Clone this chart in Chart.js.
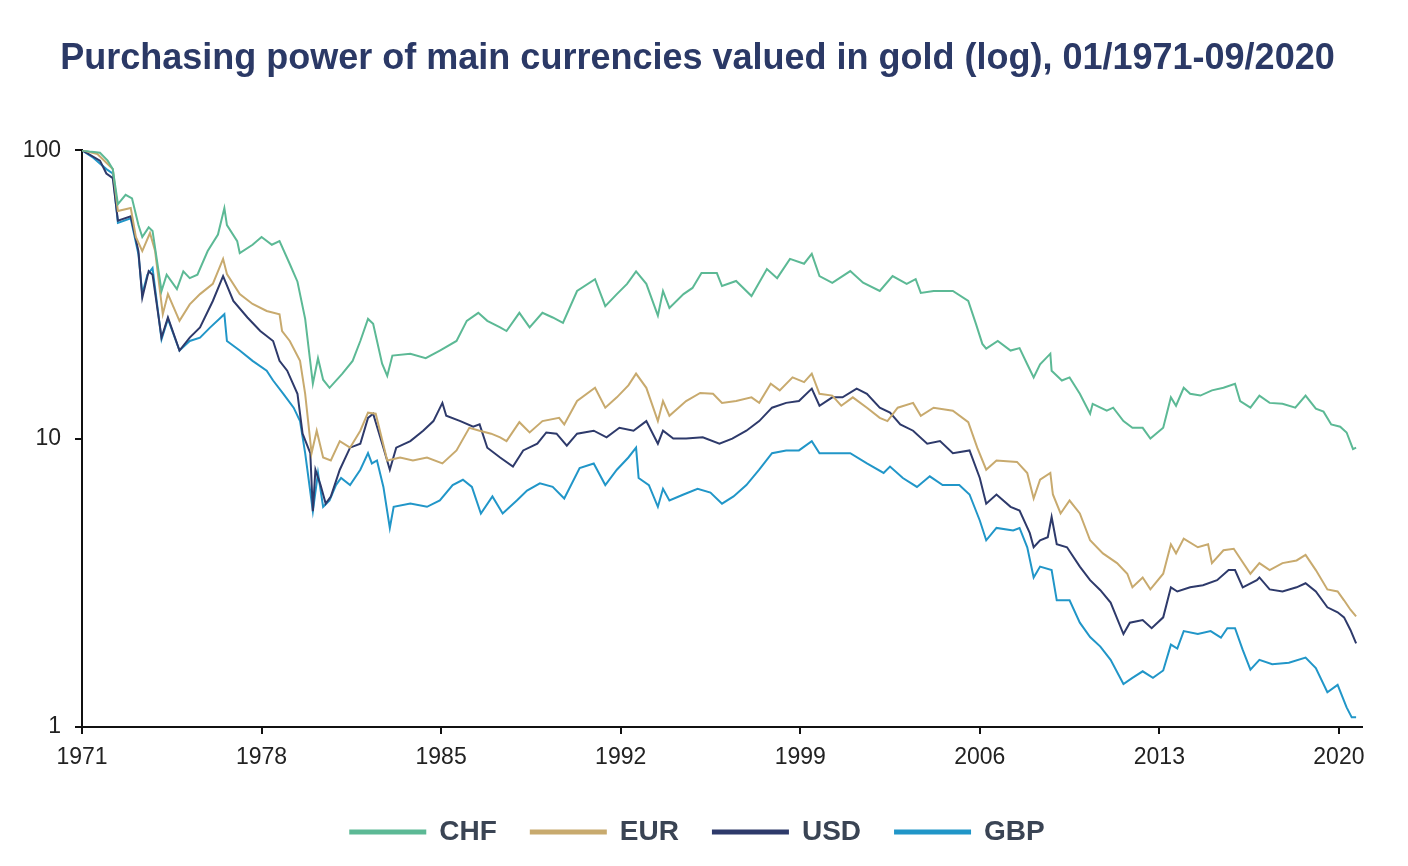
<!DOCTYPE html>
<html>
<head>
<meta charset="utf-8">
<title>Purchasing power of main currencies valued in gold</title>
<script src="https://cdn.jsdelivr.net/npm/chart.js@4/dist/chart.umd.min.js"></script>
<style>
  html, body { margin: 0; padding: 0; background: #ffffff; }
  #wrap { width: 1408px; height: 866px; }
</style>
</head>
<body>
<div id="wrap"><canvas id="goldChart" width="1408" height="866"></canvas></div>
<script>
//---------------------------------------------------------
// Data (index, 01/1971 = 100)
const xTickYears = [1971, 1978, 1985, 1992, 1999, 2006, 2013, 2020];
const yTickValues = [1, 10, 100];
const seriesNames = ["CHF", "EUR", "USD", "GBP"];

const chfYears = [1971.0, 1971.3, 1971.7, 1972.0, 1972.2, 1972.4, 1972.7, 1972.95, 1973.2, 1973.35, 1973.6, 1973.75,
  1974.1, 1974.3, 1974.7, 1974.95, 1975.2, 1975.5, 1975.9, 1976.3, 1976.55, 1976.65, 1977.05, 1977.15, 1977.65,
  1978.0, 1978.4, 1978.7, 1979.1, 1979.4, 1979.7, 1980.0, 1980.2, 1980.4, 1980.65, 1981.15, 1981.55, 1981.85,
  1982.15, 1982.35, 1982.7, 1982.9, 1983.1, 1983.8, 1984.4, 1984.95, 1985.6, 1986.0, 1986.45, 1986.8, 1987.3,
  1987.55, 1988.05, 1988.45, 1988.95, 1989.35, 1989.75, 1990.3, 1991.0, 1991.4, 1991.85, 1992.25, 1992.6, 1993.0,
  1993.45, 1993.65, 1993.9, 1994.45, 1994.8, 1995.15, 1995.75, 1995.95, 1996.5, 1997.1, 1997.7, 1998.1, 1998.6,
  1999.15, 1999.45, 1999.75, 2000.25, 2000.95, 2001.45, 2002.1, 2002.6, 2003.15, 2003.5, 2003.7, 2004.2, 2004.95,
  2005.55, 2005.85, 2006.1, 2006.25, 2006.7, 2007.2, 2007.55, 2007.85, 2008.1, 2008.35, 2008.75, 2008.8, 2009.2,
  2009.5, 2009.9, 2010.3, 2010.4, 2010.95, 2011.2, 2011.6, 2011.95, 2012.35, 2012.65, 2013.15, 2013.45, 2013.65,
  2013.95, 2014.2, 2014.6, 2015.05, 2015.5, 2015.95, 2016.15, 2016.55, 2016.9, 2017.3, 2017.8, 2018.3, 2018.7,
  2019.1, 2019.4, 2019.7, 2020.05, 2020.3, 2020.55, 2020.67];
const chfValues = [100, 99, 98, 92, 86, 65, 70, 68, 55, 50, 54, 52.5,
  32.5, 37, 33, 38, 36, 37, 44.7, 51, 63, 55, 48.4, 44, 47,
  50, 47, 48.4, 40.3, 35, 26, 15.5, 19, 16, 15, 16.8, 18.6, 21.8,
  26, 25, 18.2, 16.5, 19.4, 19.7, 19, 20.2, 21.8, 25.6, 27.3, 25.6, 24.3,
  23.6, 27.3, 24.3, 27.3, 26.3, 25.2, 32.5, 35.7, 28.8, 31.7, 34.4, 38, 34.4,
  26.7, 32.5, 28.4, 31.7, 33.3, 37.5, 37.5, 33.8, 35.2, 31.2, 38.7, 36, 42,
  40.4, 43.7, 36.6, 34.7, 38.1, 34.7, 32.5, 36.6, 34.4, 35.7, 32, 32.5, 32.5,
  30, 25, 21.3, 20.5, 21.8, 20.2, 20.6, 18.1, 16.3, 18.1, 19.7, 17.2, 15.9,
  16.3, 14.3, 12.2, 13.2, 12.5, 12.8, 11.5, 10.9, 10.9, 10.0, 10.9, 13.9, 13,
  15, 14.3, 14.1, 14.7, 15, 15.5, 13.5, 12.8, 14.1, 13.3, 13.2, 12.8, 14.1,
  12.7, 12.4, 11.2, 11.0, 10.5, 9.2, 9.3];

const eurYears = [1971.0, 1971.6, 1972.2, 1972.4, 1972.9, 1973.1, 1973.35, 1973.65, 1973.85, 1974.15, 1974.35, 1974.8,
  1975.2, 1975.6, 1976.1, 1976.5, 1976.65, 1977.15, 1977.65, 1978.2, 1978.7, 1978.8, 1979.1, 1979.5, 1979.7,
  1979.95, 1980.15, 1980.4, 1980.7, 1981.05, 1981.45, 1981.85, 1982.15, 1982.45, 1982.9, 1983.4, 1983.9, 1984.45,
  1985.05, 1985.6, 1986.1, 1986.5, 1986.95, 1987.3, 1987.55, 1988.05, 1988.45, 1988.95, 1989.6, 1989.8, 1990.3,
  1991.0, 1991.4, 1991.85, 1992.3, 1992.6, 1993.0, 1993.45, 1993.65, 1993.9, 1994.55, 1995.1, 1995.6, 1995.95,
  1996.5, 1997.1, 1997.4, 1997.85, 1998.2, 1998.7, 1999.15, 1999.45, 1999.75, 2000.25, 2000.6, 2001.05, 2001.6,
  2002.1, 2002.4, 2002.8, 2003.4, 2003.7, 2004.2, 2004.95, 2005.55, 2005.9, 2006.25, 2006.65, 2007.45, 2007.85,
  2008.1, 2008.35, 2008.75, 2008.85, 2009.15, 2009.5, 2009.9, 2010.3, 2010.8, 2011.35, 2011.75, 2011.95, 2012.35,
  2012.65, 2013.15, 2013.45, 2013.65, 2013.95, 2014.5, 2014.9, 2015.05, 2015.5, 2015.9, 2016.55, 2016.9, 2017.3,
  2017.8, 2018.35, 2018.7, 2019.1, 2019.55, 2019.95, 2020.2, 2020.45, 2020.67];
const eurValues = [100, 97, 86, 61.5, 63, 50, 44.7, 51.6, 44.7, 27, 31.7, 25.6,
  29.2, 31.7, 34.4, 42, 37.2, 31.7, 29.3, 27.7, 27, 23.6, 21.8, 18.6, 14.3,
  8.9, 10.65, 8.6, 8.4, 9.8, 9.3, 10.65, 12.3, 12.2, 8.4, 8.6, 8.4, 8.6,
  8.2, 9.1, 10.9, 10.65, 10.4, 10.1, 9.8, 11.4, 10.5, 11.5, 11.8, 11.2, 13.5,
  15, 12.8, 13.9, 15.3, 16.8, 15, 11.5, 13.5, 12, 13.5, 14.4, 14.3, 13.3,
  13.5, 13.9, 13.3, 15.5, 14.7, 16.3, 15.7, 16.8, 14.3, 14.1, 13, 13.9, 12.8,
  11.8, 11.5, 12.8, 13.3, 12, 12.8, 12.5, 11.4, 9.3, 7.8, 8.4, 8.3, 7.6,
  6.2, 7.2, 7.6, 6.4, 5.5, 6.1, 5.5, 4.44, 4.0, 3.7, 3.4, 3.05, 3.3,
  3.0, 3.4, 4.3, 4.0, 4.5, 4.2, 4.3, 3.7, 4.1, 4.15, 3.4, 3.7, 3.5,
  3.7, 3.78, 3.95, 3.5, 3.0, 2.95, 2.75, 2.55, 2.42];

const usdYears = [1971.0, 1971.7, 1971.95, 1972.2, 1972.4, 1972.9, 1973.2, 1973.35, 1973.6, 1973.75, 1974.1, 1974.35,
  1974.8, 1975.2, 1975.6, 1976.1, 1976.5, 1976.9, 1977.45, 1977.95, 1978.45, 1978.7, 1979.0, 1979.4, 1979.6,
  1979.9, 1980.0, 1980.1, 1980.3, 1980.5, 1980.7, 1981.05, 1981.45, 1981.85, 1982.15, 1982.35, 1982.75, 1983.0,
  1983.25, 1983.8, 1984.3, 1984.7, 1985.05, 1985.2, 1985.75, 1986.25, 1986.5, 1986.8, 1987.3, 1987.8, 1988.2,
  1988.75, 1989.1, 1989.5, 1989.9, 1990.3, 1990.95, 1991.45, 1991.95, 1992.5, 1993.0, 1993.45, 1993.65, 1994.05,
  1994.55, 1995.2, 1995.85, 1996.35, 1996.9, 1997.4, 1997.9, 1998.45, 1998.95, 1999.45, 1999.75, 2000.25, 2000.65,
  2001.2, 2001.6, 2002.1, 2002.5, 2002.9, 2003.4, 2003.95, 2004.45, 2004.95, 2005.6, 2006.0, 2006.25, 2006.65,
  2007.2, 2007.55, 2007.95, 2008.1, 2008.35, 2008.65, 2008.8, 2009.0, 2009.4, 2009.9, 2010.3, 2010.7, 2011.1,
  2011.6, 2011.85, 2012.35, 2012.7, 2013.15, 2013.45, 2013.7, 2014.2, 2014.7, 2015.25, 2015.7, 2015.95, 2016.25,
  2016.8, 2016.9, 2017.3, 2017.8, 2018.35, 2018.7, 2019.1, 2019.55, 2019.95, 2020.2, 2020.45, 2020.67];
const usdValues = [100, 92, 83, 80, 57, 59, 44.7, 30.8, 38.1, 37, 22.4, 26.3,
  20.2, 22.4, 24.3, 30, 36.6, 30, 26.3, 23.6, 21.8, 18.6, 17.2, 14.3, 10.4,
  8.9, 5.6, 7.8, 6.9, 5.95, 6.3, 7.8, 9.3, 9.6, 11.8, 12.2, 9.3, 7.8,
  9.3, 9.8, 10.65, 11.5, 13.3, 12, 11.5, 11, 11.2, 9.3, 8.6, 8.0, 9.1,
  9.6, 10.5, 10.4, 9.45, 10.4, 10.65, 10.1, 10.9, 10.65, 11.5, 9.6, 10.65, 10,
  10, 10.1, 9.6, 10, 10.65, 11.5, 12.8, 13.3, 13.5, 14.9, 13, 13.9, 13.9,
  14.9, 14.3, 12.8, 12.3, 11.2, 10.65, 9.6, 9.8, 8.9, 9.1, 7.3, 5.95, 6.4,
  5.8, 5.63, 4.7, 4.2, 4.44, 4.55, 5.35, 4.3, 4.2, 3.6, 3.23, 2.98, 2.7,
  2.1, 2.3, 2.35, 2.2, 2.4, 3.05, 2.95, 3.05, 3.1, 3.23, 3.5, 3.5, 3.05,
  3.23, 3.3, 3.0, 2.95, 3.05, 3.15, 2.95, 2.6, 2.5, 2.4, 2.17, 1.95];

const gbpYears = [1971.0, 1971.45, 1971.95, 1972.2, 1972.4, 1972.9, 1973.2, 1973.35, 1973.55, 1973.75, 1974.1, 1974.35,
  1974.8, 1975.2, 1975.6, 1976.0, 1976.55, 1976.65, 1977.15, 1977.65, 1978.2, 1978.45, 1978.85, 1979.25, 1979.5,
  1979.7, 1980.0, 1980.2, 1980.4, 1980.65, 1980.9, 1981.1, 1981.45, 1981.85, 1982.15, 1982.3, 1982.5, 1982.75,
  1983.0, 1983.15, 1983.8, 1984.45, 1984.95, 1985.45, 1985.85, 1986.2, 1986.55, 1987.0, 1987.4, 1987.95, 1988.35,
  1988.85, 1989.35, 1989.8, 1990.4, 1990.95, 1991.4, 1991.85, 1992.3, 1992.6, 1992.7, 1993.1, 1993.45, 1993.65,
  1993.9, 1994.45, 1995.0, 1995.5, 1995.95, 1996.4, 1996.9, 1997.4, 1997.9, 1998.45, 1998.95, 1999.45, 1999.75,
  2000.25, 2000.95, 2001.6, 2002.25, 2002.5, 2003.0, 2003.55, 2004.05, 2004.55, 2005.2, 2005.6, 2006.0, 2006.25,
  2006.65, 2007.3, 2007.55, 2007.85, 2008.1, 2008.35, 2008.8, 2009.0, 2009.5, 2009.9, 2010.3, 2010.7, 2011.1,
  2011.6, 2011.95, 2012.35, 2012.75, 2013.15, 2013.45, 2013.7, 2013.95, 2014.5, 2015.0, 2015.4, 2015.65, 2015.95,
  2016.25, 2016.55, 2016.9, 2017.4, 2018.05, 2018.7, 2019.1, 2019.55, 2019.95, 2020.3, 2020.5, 2020.67];
const gbpValues = [100, 94, 86, 83, 56, 58, 43.6, 31.7, 37, 39, 22.1, 26,
  20.2, 21.8, 22.4, 24.3, 27, 21.8, 20.2, 18.6, 17.2, 15.9, 14.3, 12.8, 11.5,
  8.9, 5.6, 7.6, 5.8, 6.1, 6.9, 7.3, 6.9, 7.8, 8.9, 8.2, 8.4, 6.8,
  4.9, 5.8, 5.95, 5.8, 6.1, 6.9, 7.2, 6.8, 5.5, 6.3, 5.5, 6.1, 6.6,
  7.0, 6.8, 6.2, 7.9, 8.2, 6.9, 7.8, 8.6, 9.3, 7.3, 6.9, 5.8, 6.7,
  6.1, 6.4, 6.7, 6.5, 5.95, 6.3, 6.9, 7.8, 8.9, 9.1, 9.1, 9.8, 8.9,
  8.9, 8.9, 8.2, 7.6, 8.0, 7.3, 6.8, 7.4, 6.9, 6.9, 6.4, 5.2, 4.44,
  4.9, 4.8, 4.9, 4.2, 3.3, 3.6, 3.5, 2.75, 2.75, 2.3, 2.05, 1.9, 1.71,
  1.41, 1.48, 1.56, 1.48, 1.57, 1.93, 1.87, 2.15, 2.1, 2.15, 2.04, 2.2, 2.2,
  1.85, 1.58, 1.71, 1.65, 1.67, 1.74, 1.6, 1.32, 1.4, 1.17, 1.08, 1.08];

//---------------------------------------------------------
// Colours and fonts
const seriesColors = ["#5cb995", "#c8aa6e", "#2e3a6b", "#2196c8"];
const titleColor = "#2b3966";
const tickFont = { family: "'Liberation Sans', Arial, sans-serif", size: 23 };

// pair up the years and values for the linear x scale
const toPoints = (years, values) => years.map((yr, i) => ({ x: yr, y: values[i] }));
const seriesPoints = [
  toPoints(chfYears, chfValues),
  toPoints(eurYears, eurValues),
  toPoints(usdYears, usdValues),
  toPoints(gbpYears, gbpValues),
];

// the y labels would be clipped to the scale box (which starts after the left padding),
// so let the label area reach the canvas edge
const unclipYLabels = {
  id: "unclipYLabels",
  afterLayout(chart) { chart.scales.y.left = 0; },
};

const ctx = document.getElementById("goldChart").getContext("2d");
new Chart(ctx, {
  type: "line",
  data: {
    datasets: seriesNames.map((name, i) => ({
      label: name,
      data: seriesPoints[i],
      borderColor: seriesColors[i],
      backgroundColor: seriesColors[i],
      borderWidth: 2,
      pointRadius: 0,
      tension: 0,
      fill: false,
    })),
  },
  options: {
    responsive: false,
    animation: false,
    // left padding shifts the title/legend centre to the right like the original
    layout: { padding: { left: 33, right: 46, top: 0, bottom: 10 } },
    scales: {
      x: {
        type: "linear",
        min: 1971,
        max: 2020.9,
        afterBuildTicks: (scale) => { scale.ticks = xTickYears.map((v) => ({ value: v })); },
        afterFit: (scale) => { scale.height = 57; },
        grid: { drawOnChartArea: false, drawTicks: true, tickLength: 7, color: "#111", lineWidth: 2 },
        border: { display: true, color: "#111", width: 2 },
        ticks: {
          color: "#222",
          font: tickFont,
          padding: 10,
          maxRotation: 0,
          callback: (v) => String(v),
        },
      },
      y: {
        type: "logarithmic",
        min: 1,
        max: 100,
        afterBuildTicks: (scale) => { scale.ticks = yTickValues.map((v) => ({ value: v })); },
        afterFit: (scale) => { scale.width = 49; },
        grid: { drawOnChartArea: false, drawTicks: true, tickLength: 7, color: "#111", lineWidth: 2 },
        border: { display: true, color: "#111", width: 2 },
        ticks: {
          color: "#222",
          font: tickFont,
          padding: 14,
          callback: (v) => String(v),
        },
      },
    },
    plugins: {
      title: {
        display: true,
        text: "Purchasing power of main currencies valued in gold (log), 01/1971-09/2020",
        color: titleColor,
        font: { family: "'Liberation Sans', Arial, sans-serif", size: 36, weight: "bold" },
        padding: { top: 37, bottom: 70 },
      },
      legend: {
        display: true,
        position: "bottom",
        labels: {
          boxWidth: 75,
          boxHeight: 3,
          padding: 34,
          color: "#3a4454",
          font: { family: "'Liberation Sans', Arial, sans-serif", size: 28, weight: "bold" },
        },
      },
      tooltip: { enabled: false },
    },
  },
  plugins: [unclipYLabels],
});
</script>
</body>
</html>
